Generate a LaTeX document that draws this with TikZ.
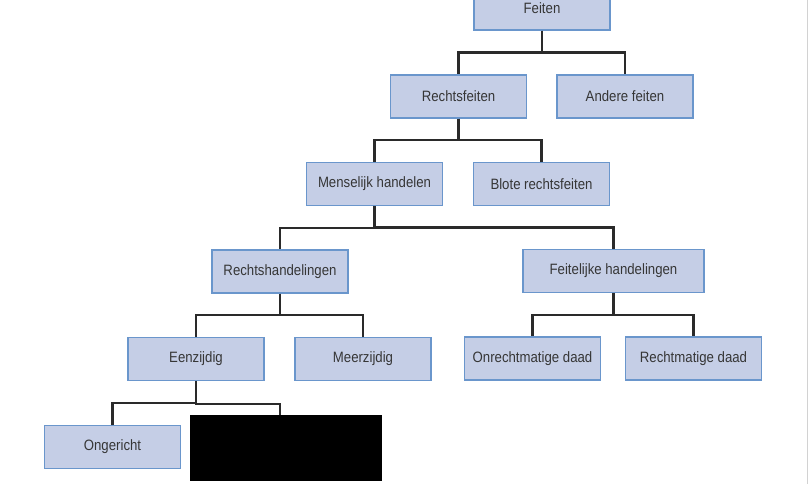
\documentclass[tikz,border=0pt]{standalone}
\usepackage{fontspec}
\setmainfont{Liberation Sans}[FakeStretch=0.88]
\usetikzlibrary{calc}
\definecolor{boxfill}{HTML}{C5CEE6}
\definecolor{boxline}{HTML}{6A96CC}
\definecolor{linkc}{HTML}{2A2A2A}
\definecolor{txt}{HTML}{363636}
\begin{document}
\begin{tikzpicture}[x=1pt,y=-1pt,
  box/.style={draw=boxline,fill=boxfill,line width=1.4pt,minimum width=136pt,minimum height=43pt,
    inner sep=0pt,text=txt,font=\fontsize{15}{17}\selectfont},
  link/.style={draw=linkc,line width=2.2pt}]
\useasboundingbox (0,0) rectangle (809,484);
\fill[white] (0,0) rectangle (809,484);
\draw[gray!35,line width=1.5pt] (807.5,0) -- (807.5,484);

\node[box] (fe) at (542,8.5) {Feiten};
\node[box] (rf) at (458.5,96.5) {Rechtsfeiten};
\node[box] (af) at (625,96.5) {Andere feiten};
\node[box] (mh) at (374.5,184) {Menselijk handelen};
\node[box] (br) at (541.5,184) {Blote rechtsfeiten};
\node[box] (rh) at (280,271.5) {Rechtshandelingen};
\node[box,minimum width=181pt] (fh) at (613.5,271) {Feitelijke handelingen};
\node[box] (ez) at (196,359) {Eenzijdig};
\node[box] (mz) at (363,359) {Meerzijdig};
\node[box] (od) at (532.5,358.5) {Onrechtmatige daad};
\node[box] (rd) at (693.5,358.5) {Rechtmatige daad};
\node[box] (og) at (112.5,447) {Ongericht};
\coordinate (hid) at (280,426);

\foreach \p/\c in {fe/rf,fe/af,rf/mh,rf/br,mh/rh,mh/fh,rh/ez,rh/mz,fh/od,fh/rd,ez/og}
  \draw[link] (\p.south) -- ($(\p.south)!0.5!(\p.south |- \c.north)$) -| (\c.north);
\draw[link] (ez.south) -- ($(ez.south)!0.5!(ez.south |- hid)$) -| (hid);

\fill[black] (190,415) rectangle (382,481);
\end{tikzpicture}
\end{document}
